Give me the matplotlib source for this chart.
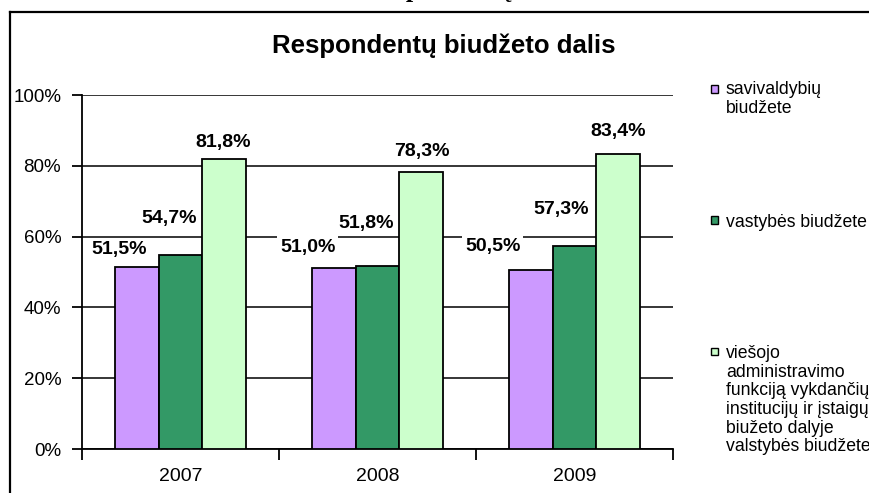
import matplotlib.pyplot as plt
import matplotlib.lines as mlines
import matplotlib.patches as mpatches
import numpy as np

years = ['2007', '2008', '2009']
series_names = ['savivaldybių\nbiudžete',
                'vastybės biudžete',
                'viešojo\nadministravimo\nfunkciją vykdančių\ninstitucijų ir įstaigų\nbiužeto dalyje\nvalstybės biudžete']
savivaldybiu = [51.5, 51.0, 50.5]
valstybes = [54.7, 51.8, 57.3]
viesojo = [81.8, 78.3, 83.4]
yticks = [0, 20, 40, 60, 80, 100]

colors = ['#CC99FF', '#339966', '#CCFFCC']
# hand placed label offsets (pixels, from bar top)
label_offsets = [[(-17, 17), (-26, 21), (-38, 24)],
                 [(-11, 37), (-11, 42), (-13, 37)],
                 [(-1, 17), (0, 20), (0, 22)]]

W, H = 870, 493
plt.rcParams['font.family'] = ['Liberation Sans', 'DejaVu Sans']

fig = plt.figure(figsize=(W / 100, H / 100), dpi=100)


def fx(x):
    return x / W


def fy(y):
    return 1 - y / H


ax = fig.add_axes([fx(82), fy(449), fx(673) - fx(82), fy(95) - fy(449)])

x = np.arange(len(years))
bw = 0.223
data = [savivaldybiu, valstybes, viesojo]
for i, vals in enumerate(data):
    pos = x + (i - 1) * bw
    ax.bar(pos, vals, width=bw, color=colors[i], edgecolor='black',
           linewidth=1.3, zorder=3)
    for j, v in enumerate(vals):
        dx, dy = label_offsets[i][j]
        ax.annotate(f'{v:.1f}'.replace('.', ',') + '%', xy=(pos[j], v),
                    xytext=(dx, dy), textcoords='offset pixels',
                    ha='center', va='center', fontsize=14, fontweight='bold',
                    zorder=2.5,
                    bbox=dict(boxstyle='square,pad=0.15', fc='white', ec='none'))

ax.set_xlim(-0.5, 2.5)
ax.set_ylim(0, 100)
ax.set_yticks(yticks)
ax.set_yticklabels([f'{t}%' for t in yticks], fontsize=13.5)
ax.yaxis.grid(True, color='black', linewidth=1.1)
ax.set_axisbelow(True)

ax.set_xticks([-0.5, 0.5, 1.5, 2.5])
ax.set_xticklabels([])
ax.set_xticks(x, minor=True)
ax.set_xticklabels(years, minor=True, fontsize=14)
ax.tick_params(axis='x', which='major', direction='out', length=8, width=1.3)
ax.tick_params(axis='x', which='minor', length=0, pad=14)
ax.tick_params(axis='y', direction='out', length=7, width=1.3, pad=8)

for s in ['top', 'right']:
    ax.spines[s].set_visible(False)
for s in ['left', 'bottom']:
    ax.spines[s].set_linewidth(1.3)

fig.text(fx(444), fy(53), 'Respondentų biudžeto dalis', ha='center',
         va='baseline', fontsize=18.5, fontweight='bold')

# cut-off heading above the frame
fig.text(fx(366), fy(-2.5), 'Respondentų', ha='left', va='baseline',
         fontsize=19, fontweight='bold', family='Liberation Serif')

# legend drawn by hand
leg_top = [81, 214, 345]
leg_sq = [89, 220, 351]
for i, name in enumerate(series_names):
    sq = 7
    fig.patches.append(mpatches.Rectangle((fx(711), fy(leg_sq[i] + sq / 2)), sq / W, sq / H,
                                          transform=fig.transFigure,
                                          facecolor=colors[i], edgecolor='black',
                                          linewidth=1.0))
    fig.text(fx(726), fy(leg_top[i]), name, ha='left', va='top',
             fontsize=12.7, linespacing=1.13)

# outer frame
fig.add_artist(mlines.Line2D([fx(10), 1.0], [fy(12), fy(12)], color='black',
                             linewidth=1.6, transform=fig.transFigure))
fig.add_artist(mlines.Line2D([fx(10), fx(10)], [fy(12), 0.0], color='black',
                             linewidth=1.6, transform=fig.transFigure))

fig.savefig('out.png', dpi=100)
